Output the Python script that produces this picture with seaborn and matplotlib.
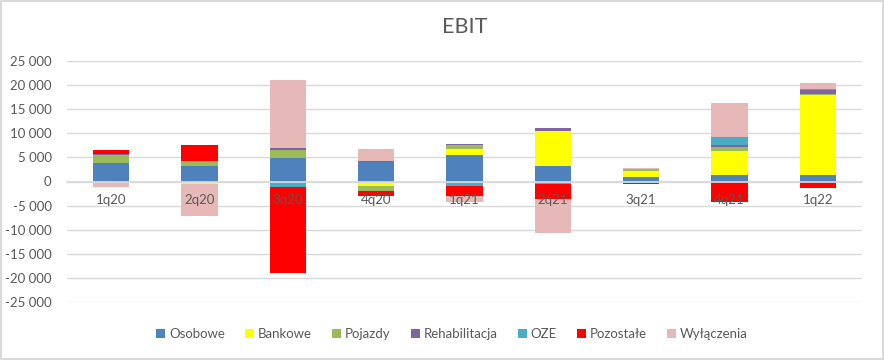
import numpy as np
import pandas as pd
import seaborn as sns
import matplotlib.pyplot as plt
from matplotlib.patches import Patch
from matplotlib.ticker import FuncFormatter

# quarters
quarters = ["1q20", "2q20", "3q20", "4q20", "1q21", "2q21", "3q21", "4q21", "1q22"]

# EBIT by segment
osobowe = [3800, 3200, 4860, 4090, 5600, 3190, 830, 1310, 1310]
bankowe = [0, -560, 0, -970, 1100, 7350, 1250, 4990, 16700]
pojazdy = [1670, 1040, 1660, -900, 830, 0, 410, 830, 200]
rehabilitacja = [150, 0, 400, 100, 200, 550, 200, 415, 760]
oze = [0, 0, -1040, 0, -830, -480, -410, 1660, 200]
pozostale = [830, 3330, -17900, -1040, -2080, -3190, -200, -4160, -1250]
wylaczenia = [-1180, -6650, 14080, 2630, -1240, -6930, 200, 7070, 1250]

series = ["Osobowe", "Bankowe", "Pojazdy", "Rehabilitacja", "OZE", "Pozostałe", "Wyłączenia"]
colors = ["#4F81BD", "#FFFF00", "#9BBB59", "#8064A2", "#4BACC6", "#FF0000", "#E6B9B8"]

df = pd.DataFrame(
    dict(zip(series, [osobowe, bankowe, pojazdy, rehabilitacja, oze, pozostale, wylaczenia])),
    index=quarters,
)

sns.set_theme(style="white")
plt.rcParams["font.family"] = ["Lato", "DejaVu Sans"]

fig = plt.figure(figsize=(8.84, 3.6), dpi=100)
fig.patch.set_edgecolor("#d9d9d9")
fig.patch.set_linewidth(1.5)
ax = fig.add_axes([67 / 884, 1 - 302 / 360, 795 / 884, 241 / 360])

# stacked bars: draw cumulative totals from the outermost layer inwards
pos_cum = df.clip(lower=0).cumsum(axis=1)
neg_cum = df.clip(upper=0).cumsum(axis=1)
for cum in (pos_cum, neg_cum):
    for name, col in reversed(list(zip(series, colors))):
        d = pd.DataFrame({"q": quarters, "v": cum[name].values})
        sns.barplot(data=d, x="q", y="v", color=col, saturation=1,
                    width=0.41, linewidth=0, ax=ax, zorder=3)

ax.set_ylim(-25000, 25000)
ax.set_yticks(np.arange(-25000, 25001, 5000))
ax.yaxis.set_major_formatter(FuncFormatter(lambda v, p: f"{int(v):,}".replace(",", " ")))
ax.grid(axis="y", color="#d9d9d9", linewidth=1)
ax.set_axisbelow(True)
ax.xaxis.set_zorder(5)  # category labels sit on top of the bars, like in Excel
ax.set_xlabel("")
ax.set_ylabel("")
for s in ["top", "right", "left"]:
    ax.spines[s].set_visible(False)
ax.spines["bottom"].set_position(("data", 0))
ax.spines["bottom"].set_color("#d9d9d9")
ax.spines["bottom"].set_zorder(4)
ax.tick_params(axis="y", length=0, pad=11, labelsize=9.5, labelcolor="#595959")
ax.tick_params(axis="x", length=0, pad=9, labelsize=9.5, labelcolor="#595959")

ax.set_title("EBIT", fontsize=15.5, color="#595959", pad=20)

handles = [Patch(facecolor=c, edgecolor="none") for c in colors]
fig.legend(handles, series, loc="center", bbox_to_anchor=(452 / 884, 1 - 334 / 360),
           ncol=7, frameon=False, fontsize=9.5, handlelength=0.7, handleheight=0.7,
           handletextpad=0.3, columnspacing=1.5, labelcolor="#595959")

fig.savefig("out.png", dpi=100)
